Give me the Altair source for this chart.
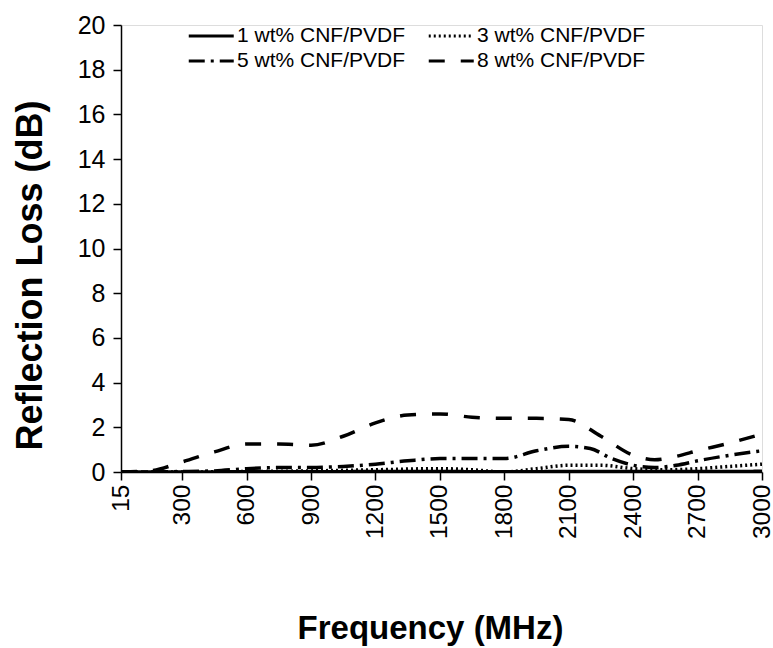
import altair as alt
import pandas as pd

series_names = ["1 wt% CNF/PVDF", "3 wt% CNF/PVDF", "5 wt% CNF/PVDF", "8 wt% CNF/PVDF"]
legend_order = ["1 wt% CNF/PVDF", "5 wt% CNF/PVDF", "3 wt% CNF/PVDF", "8 wt% CNF/PVDF"]
dash_by_series = {
    "1 wt% CNF/PVDF": [1, 0],
    "3 wt% CNF/PVDF": [2, 3],
    "5 wt% CNF/PVDF": [16, 6, 3, 6],
    "8 wt% CNF/PVDF": [16, 16],
}

freq_1 = [15, 300, 600, 900, 1200, 1500, 1800, 2100, 2400, 2700, 3000]
rl_1 = [0.0, 0.0, 0.01, 0.01, 0.02, 0.02, 0.01, 0.02, 0.02, 0.02, 0.03]

freq_3 = [15, 300, 600, 900, 1200, 1500, 1650, 1800, 1950, 2100, 2250, 2400, 2550, 2700, 2850, 3000]
rl_3 = [0.0, 0.0, 0.02, 0.05, 0.1, 0.15, 0.1, 0.0, 0.15, 0.3, 0.3, 0.15, 0.1, 0.15, 0.25, 0.35]

freq_5 = [15, 300, 450, 600, 750, 900, 1050, 1200, 1350, 1500, 1650, 1800, 1950, 2100, 2200, 2300, 2400, 2500, 2600, 2700, 2850, 3000]
rl_5 = [0.0, 0.02, 0.05, 0.15, 0.2, 0.2, 0.25, 0.35, 0.5, 0.6, 0.6, 0.6, 0.95, 1.15, 1.05, 0.6, 0.3, 0.2, 0.3, 0.5, 0.75, 0.95]

freq_8 = [15, 150, 300, 450, 600, 750, 900, 1050, 1200, 1350, 1500, 1650, 1800, 1950, 2100, 2250, 2400, 2500, 2600, 2700, 2850, 3000]
rl_8 = [0.0, 0.05, 0.45, 0.9, 1.25, 1.25, 1.2, 1.6, 2.2, 2.55, 2.6, 2.45, 2.4, 2.4, 2.35, 1.6, 0.75, 0.55, 0.7, 0.95, 1.3, 1.7]

x_ticks = [15, 300, 600, 900, 1200, 1500, 1800, 2100, 2400, 2700, 3000]
y_ticks = [0, 2, 4, 6, 8, 10, 12, 14, 16, 18, 20]

rows = []
for name, fs, vs in zip(series_names, [freq_1, freq_3, freq_5, freq_8], [rl_1, rl_3, rl_5, rl_8]):
    for i, (f, v) in enumerate(zip(fs, vs)):
        rows.append({"series": name, "freq": f, "rl": v, "order": i})
df = pd.DataFrame(rows)

font = "Liberation Sans"

chart = alt.Chart(df).mark_line(color="black", strokeWidth=3.5, interpolate="monotone", clip=True).encode(
    x=alt.X("freq:Q", scale=alt.Scale(domain=[15, 3000], nice=False, zero=False),
            axis=alt.Axis(values=x_ticks, format="d", title="Frequency (MHz)", labelAngle=270,
                          labelFontSize=24.5, labelFont=font, labelColor="black",
                          labelPadding=4, tickSize=8, tickColor="black", tickWidth=1.5,
                          domainColor="black", domainWidth=1.5, grid=False,
                          titleFont=font, titleFontSize=33, titleFontWeight="bold",
                          titleColor="black", titleX=309, titleY=166,
                          titleBaseline="alphabetic", titleAlign="center")),
    y=alt.Y("rl:Q", scale=alt.Scale(domain=[0, 20], nice=False),
            axis=alt.Axis(values=y_ticks, title="Reflection Loss (dB)",
                          labelFontSize=25, labelFont=font, labelColor="black",
                          labelPadding=8, tickSize=8, tickColor="black", tickWidth=1.5,
                          domainColor="black", domainWidth=1.5, grid=False,
                          titleFont=font, titleFontSize=36, titleFontWeight="bold",
                          titleColor="black", titleX=-91, titleY=250,
                          titleBaseline="middle", titleAlign="center", titleAngle=270)),
    strokeDash=alt.StrokeDash("series:N",
                              scale=alt.Scale(domain=legend_order,
                                              range=[dash_by_series[s] for s in legend_order]),
                              legend=alt.Legend(title=None, orient="none", legendX=66, legendY=-2,
                                                columns=2, symbolType="M-1,0H3", symbolSize=506.25,
                                                symbolStrokeWidth=3, symbolStrokeColor="black",
                                                symbolFillColor="transparent",
                                                labelFont=font, labelFontSize=21, labelColor="black",
                                                labelLimit=400, labelOffset=24, rowPadding=2,
                                                columnPadding=16)),
    order="order:Q",
).properties(
    width=641, height=447,
    autosize=alt.AutoSizeParams(type="none"),
    padding={"left": 121, "top": 25, "right": 11, "bottom": 176},
).configure_view(stroke=None).configure(background="white")

chart.save("out.html", embed_options={"renderer": "svg", "actions": False})
